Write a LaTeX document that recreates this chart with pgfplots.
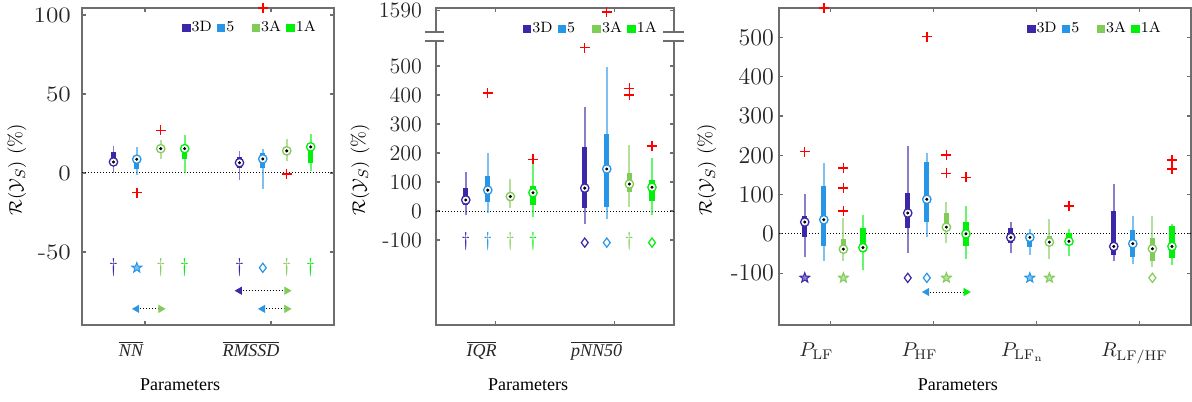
\documentclass[border=0pt]{standalone}
\usepackage{pgfplots}
\pgfplotsset{compat=1.18}
\usepackage{pgfplotstable}
\usepackage{fontspec}
\newfontfamily\timesf{Liberation Serif}
\usetikzlibrary{plotmarks}

\definecolor{cD}{RGB}{58,40,168}
\definecolor{cF}{RGB}{40,150,230}
\definecolor{cA}{RGB}{128,204,88}
\definecolor{cO}{RGB}{0,240,10}
\definecolor{axgray}{RGB}{110,110,110}

\pgfdeclareplotmark{pent}{%
  \pgfpathmoveto{\pgfpointpolar{90}{\pgfplotmarksize}}%
  \pgfpathlineto{\pgfpointpolar{126}{0.42\pgfplotmarksize}}%
  \pgfpathlineto{\pgfpointpolar{162}{\pgfplotmarksize}}%
  \pgfpathlineto{\pgfpointpolar{198}{0.42\pgfplotmarksize}}%
  \pgfpathlineto{\pgfpointpolar{234}{\pgfplotmarksize}}%
  \pgfpathlineto{\pgfpointpolar{270}{0.42\pgfplotmarksize}}%
  \pgfpathlineto{\pgfpointpolar{306}{\pgfplotmarksize}}%
  \pgfpathlineto{\pgfpointpolar{342}{0.42\pgfplotmarksize}}%
  \pgfpathlineto{\pgfpointpolar{18}{\pgfplotmarksize}}%
  \pgfpathlineto{\pgfpointpolar{54}{0.42\pgfplotmarksize}}%
  \pgfpathclose
  \pgfusepathqfillstroke}

% ---------- data: g wlo q1 med q3 whi ----------
\pgfplotstableread{
g wlo q1 med q3 whi
1 0 5 7 13 17
2 -4.4 3 6.5 10 14
}\LD
\pgfplotstableread{
g wlo q1 med q3 whi
1 -1.3 2.5 8.7 10 16.3
2 -10.3 3 8.9 12.5 15
}\LF
\pgfplotstableread{
g wlo q1 med q3 whi
1 8.8 13.5 15.4 17.5 21
2 7.6 11.5 14 16.5 21.5
}\LA
\pgfplotstableread{
g wlo q1 med q3 whi
1 0 9 15.4 17 24
2 1.5 6.5 16.5 17 24.6
}\LO

\pgfplotstableread{
g wlo q1 med q3 whi
1 -14 20 38 79 134
2 -46 9 79 220 358
}\MD
\pgfplotstableread{
g wlo q1 med q3 whi
1 -7 31 72 122 200
2 -29 15 145 265 498
}\MF
\pgfplotstableread{
g wlo q1 med q3 whi
1 10 35 50 62 110
2 15 67 93 132 227
}\MA
\pgfplotstableread{
g wlo q1 med q3 whi
1 -20 20 63 86 165
2 -14 34 82 107 182
}\MO

\pgfplotstableread{
g wlo q1 med q3 whi
1 -58 -7 30 46 102
2 -49 16 53 104 224
3 -49 -24 -9 14 31
4 -68 -53 -32 57 127
}\RD
\pgfplotstableread{
g wlo q1 med q3 whi
1 -70 -30 36 122 180
2 -8 30 88 184 205
3 -53 -34 -9 3 12
4 -77 -59 -25 10 46
}\RF
\pgfplotstableread{
g wlo q1 med q3 whi
1 -70 -49 -39 -13 40
2 -24 8 17 54 82
3 -64 -30 -21 -5 37
4 -85 -70 -38 -11 46
}\RA
\pgfplotstableread{
g wlo q1 med q3 whi
1 -92 -45 -35 14 48
2 -64 -32 0 29 71
3 -56 -20 -19 2 12
4 -79 -62 -32 20 25
}\RO

\newcommand{\series}[3]{%
  \addplot[draw=none, forget plot, error bars/.cd, y dir=both, y explicit, error mark=none,
    error bar style={draw=#2, line width=0.9pt, draw opacity=0.6}]
    table[x expr=\thisrow{g}+(#3), y=med, y error plus expr=\thisrow{whi}-\thisrow{med},
          y error minus expr=\thisrow{med}-\thisrow{wlo}] {#1};
  \addplot[draw=none, forget plot, error bars/.cd, y dir=both, y explicit, error mark=none,
    error bar style={draw=#2, line width=2.6pt}]
    table[x expr=\thisrow{g}+(#3), y=med, y error plus expr=\thisrow{q3}-\thisrow{med},
          y error minus expr=\thisrow{med}-\thisrow{q1}] {#1};
  \addplot[forget plot, only marks, mark=*, mark size=2.1pt,
    mark options={fill=white, draw=#2, line width=0.65pt}]
    table[x expr=\thisrow{g}+(#3), y=med] {#1};
  \addplot[forget plot, only marks, mark=*, mark size=0.55pt, black]
    table[x expr=\thisrow{g}+(#3), y=med] {#1};
}
\newcommand{\lgi}[1]{\makebox[10.5pt][l]{#1}}
\newcommand{\tl}[1]{$\overline{\mbox{\fontsize{9}{10}\selectfont\timesf\itshape #1}}$}

\pgfplotsset{
  panel/.style={
    scale only axis, height=158.5pt, clip=false,
    axis line style={axgray, line width=0.7pt},
    every tick/.style={axgray, line width=0.6pt},
    major tick length=2.2pt, tick align=inside,
    ticklabel style={font=\fontsize{11}{12}\selectfont, text=black!85},
    xticklabel style={anchor=base, yshift=-16pt, xshift=-7pt, font=\fontsize{10}{12}\selectfont},
    xlabel={\timesf Parameters},
    xlabel style={font=\fontsize{9}{10}\selectfont, anchor=center},
    ylabel={$\mathcal{R}(\mathcal{Y}_S)$ (\%)},
    ylabel style={font=\fontsize{9.5}{10}\selectfont, anchor=center},
    legend columns=4,
    legend style={draw=none, fill=none, font=\fontsize{7.5}{8}\selectfont,
      nodes={inner xsep=0.6pt, inner ysep=0.5pt}, anchor=center,
      /tikz/every even column/.append style={column sep=1.5pt}},
    legend image code/.code={\fill[##1] (0pt,-1.9pt) rectangle (3.8pt,1.9pt);},
  },
  out/.style={only marks, mark=+, color=red, mark size=2.5pt, line width=0.7pt, forget plot, mark options={draw=red}},
  dag/.style={only marks, mark=text, text mark={$\dagger$}, text mark as node=true,
    text mark style={text=#1, font=\fontsize{10}{12}\selectfont, inner sep=0pt, anchor=center},
    #1, forget plot},
  dia/.style={only marks, mark=diamond, mark size=2.3pt, #1, line width=0.6pt, forget plot, mark options={fill=white}},
  sta/.style={only marks, mark=pent, mark size=2.6pt, #1, line width=0.5pt, forget plot, mark options={fill=#1!60}},
  lhead/.style={only marks, mark=triangle*, mark size=2pt, #1, forget plot, mark options={rotate=90}},
  rhead/.style={only marks, mark=triangle*, mark size=2pt, #1, forget plot, mark options={rotate=-90}},
  dline/.style={black, densely dotted, line width=0.5pt, forget plot},
}

\begin{document}
\begin{tikzpicture}
\path[use as bounding box] (0,0) rectangle (596pt,200.5pt);

% ================= LEFT =================
\begin{axis}[panel, at={(41pt,38pt)}, anchor=south west, width=126pt,
  xmin=0.5, xmax=2.5, ymin=-96.2, ymax=104.4,
  xtick={1,2},
  xticklabels={\tl{NN}, \tl{RMSSD}\hspace*{6pt}},
  ytick={-50,0,50,100}, yticklabels={-50,0,50,100},
  yticklabel style={xshift=-1.5pt, xscale=1.15},
  xlabel style={at={(axis description cs:0.389,-0.189)}},
  ylabel style={at={(axis description cs:-0.258,0.49)}},
  legend style={at={(axis description cs:0.667,0.937)}}]
\addlegendimage{cD}\addlegendimage{cF}\addlegendimage{cA}\addlegendimage{cO}
\legend{\lgi{3D},\lgi{5},\lgi{3A},\lgi{1A}}
\addplot[dline] coordinates {(0.5,0) (2.5,0)};
\series{\LD}{cD}{-0.25}
\series{\LF}{cF}{-0.065}
\series{\LA}{cA}{0.125}
\series{\LO}{cO}{0.315}
\addplot[out] coordinates {(0.935,-12.5) (1.125,27) (1.935,104.5) (2.125,-0.6)};
\addplot[dag=cD] coordinates {(0.75,-60) (1.75,-60)};
\addplot[dag=cA] coordinates {(1.125,-60) (2.125,-60)};
\addplot[dag=cO] coordinates {(1.315,-60) (2.315,-60)};
\addplot[sta=cF] coordinates {(0.935,-60)};
\addplot[dia=cF] coordinates {(1.935,-60)};
% arrows
\addplot[dline] coordinates {(0.935,-86) (1.125,-86)};
\addplot[dline] coordinates {(1.75,-74.5) (2.125,-74.5)};
\addplot[dline] coordinates {(1.935,-86) (2.125,-86)};
\addplot[lhead=cF] coordinates {(0.935,-86) (1.935,-86)};
\addplot[lhead=cD] coordinates {(1.75,-74.5)};
\addplot[rhead=cA] coordinates {(1.125,-86) (2.125,-86) (2.125,-74.5)};
\end{axis}

% ================= MIDDLE =================
\begin{axis}[panel, at={(218pt,38pt)}, anchor=south west, width=119pt,
  xmin=0.5, xmax=2.5, ymin=-393, ymax=700,
  xtick={1,2},
  xticklabels={\tl{IQR}, \tl{pNN50}\hspace*{4pt}},
  ytick={-100,0,100,200,300,400,500,690},
  yticklabels={-100,0,100,200,300,400,500,1590},
  yticklabel style={xshift=-3.5pt},
  xlabel style={at={(axis description cs:0.387,-0.189)}},
  ylabel style={at={(axis description cs:-0.319,0.49)}},
  legend style={at={(axis description cs:0.651,0.934)}}]
\addlegendimage{cD}\addlegendimage{cF}\addlegendimage{cA}\addlegendimage{cO}
\legend{\lgi{3D},\lgi{5},\lgi{3A},\lgi{1A}}
\addplot[dline] coordinates {(0.5,0) (2.5,0)};
\series{\MD}{cD}{-0.25}
\series{\MF}{cF}{-0.065}
\series{\MA}{cA}{0.125}
\series{\MO}{cO}{0.315}
\addplot[out] coordinates {(0.935,407) (1.315,178) (1.75,563) (1.935,686) (2.125,423) (2.125,400) (2.315,224)};
\addplot[dag=cD] coordinates {(0.75,-106)};
\addplot[dag=cF] coordinates {(0.935,-106)};
\addplot[dag=cA] coordinates {(1.125,-106) (2.125,-106)};
\addplot[dag=cO] coordinates {(1.315,-106)};
\addplot[dia=cD] coordinates {(1.75,-109)};
\addplot[dia=cF] coordinates {(1.935,-109)};
\addplot[dia=cO] coordinates {(2.315,-109)};
% axis break
\fill[white] (axis cs:0.46,589) rectangle (axis cs:0.54,614);
\fill[white] (axis cs:2.46,589) rectangle (axis cs:2.54,614);
\draw[axgray, line width=0.7pt] (axis cs:0.41,586) -- (axis cs:0.57,586);
\draw[axgray, line width=0.7pt] (axis cs:0.41,617) -- (axis cs:0.57,617);
\draw[axgray, line width=0.7pt] (axis cs:2.41,586) -- (axis cs:2.58,586);
\draw[axgray, line width=0.7pt] (axis cs:2.41,617) -- (axis cs:2.58,617);
\end{axis}

% ================= RIGHT =================
\begin{axis}[panel, at={(389.5pt,38pt)}, anchor=south west, width=206pt,
  xmin=0.5, xmax=4.5, ymin=-232, ymax=575,
  xtick={1,2,3,4},
  xticklabels={$P_{\mathrm{LF}}$, $P_{\mathrm{HF}}$, $P_{\mathrm{LF}_{\mathrm{n}}}$, \hspace*{9pt}$R_{\mathrm{LF/HF}}$},
  ytick={-100,0,100,200,300,400,500},
  yticklabels={-100,0,100,200,300,400,500},
  yticklabel style={xshift=1pt, font=\fontsize{12}{13}\selectfont},
  xlabel style={at={(axis description cs:0.434,-0.189)}},
  ylabel style={at={(axis description cs:-0.175,0.49)}},
  legend style={at={(axis description cs:0.767,0.934)}}]
\addlegendimage{cD}\addlegendimage{cF}\addlegendimage{cA}\addlegendimage{cO}
\legend{\lgi{3D},\lgi{5},\lgi{3A},\lgi{1A}}
\addplot[dline] coordinates {(0.5,0) (4.5,0)};
\series{\RD}{cD}{-0.25}
\series{\RF}{cF}{-0.065}
\series{\RA}{cA}{0.125}
\series{\RO}{cO}{0.315}
\addplot[out] coordinates {(0.75,209) (0.935,575) (1.125,168) (1.125,117) (1.125,58) (1.935,502) (2.125,201) (2.125,154) (2.315,144) (3.315,71) (4.315,188) (4.315,165)};
\addplot[sta=cD] coordinates {(0.75,-112)};
\addplot[sta=cA] coordinates {(1.125,-112) (2.125,-112) (3.125,-112)};
\addplot[sta=cF] coordinates {(2.935,-112)};
\addplot[dia=cD] coordinates {(1.75,-112)};
\addplot[dia=cF] coordinates {(1.935,-112)};
\addplot[dia=cA] coordinates {(4.125,-112)};
\addplot[dline] coordinates {(1.935,-148) (2.315,-148)};
\addplot[lhead=cF] coordinates {(1.935,-148)};
\addplot[rhead=cO] coordinates {(2.315,-148)};
\end{axis}
\end{tikzpicture}
\end{document}
